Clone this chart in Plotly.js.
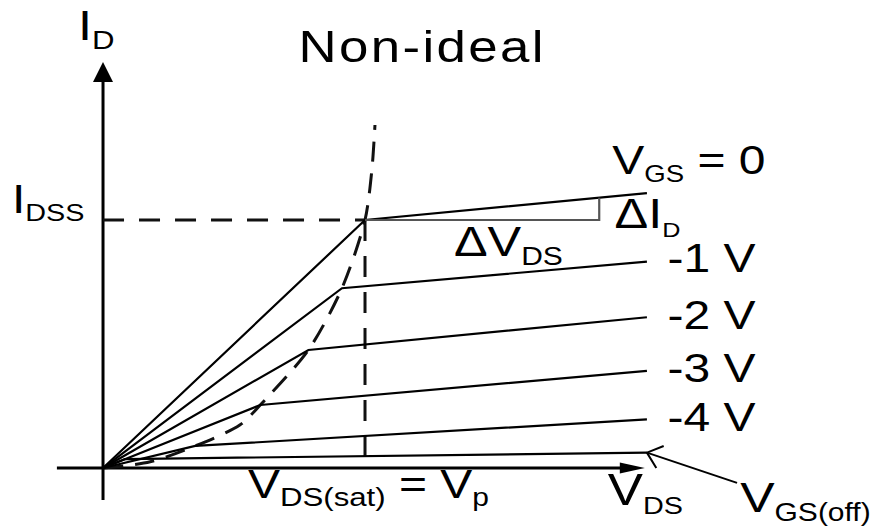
<!DOCTYPE html>
<html>
<head>
<meta charset="utf-8">
<script src="https://cdn.plot.ly/plotly-3.0.1.min.js"></script>
<style>
html, body { margin: 0; padding: 0; background: #fff; }
#chart { width: 877px; height: 528px; }
/* lettering on this sheet is set wide */
#chart text.annotation-text { transform: scaleX(1.2); transform-box: fill-box; transform-origin: center; }
</style>
</head>
<body>
<div id="chart"></div>
<script>
// Output characteristics of an n-channel JFET, non-ideal case (I_D keeps rising past saturation)

// one curve per gate-source voltage
const gateLabels = ['V<sub><span style="font-size:23px">GS</span></sub> = 0', '-1 V', '-2 V', '-3 V', '-4 V'];
const kneeVds = [5.00, 4.56, 3.92, 3.00, 1.76, 0.42];    // V_DS(sat) of each curve
const kneeId  = [10.0, 7.25, 4.76, 2.54, 0.89, 0.36];    // I_D at the knee
const endVds  = 10.38;                                    // right end of every curve
const endId   = [11.08, 8.32, 6.08, 3.92, 1.96, 0.62];    // I_D at the right end

// locus of the saturation points V_DS(sat)
const locusVds = [0, 0.90, 1.76, 2.61, 3.00, 3.92, 4.56, 5.00, 5.13, 5.19];
const locusId  = [0, 0.25, 0.89, 1.73, 2.54, 4.76, 7.25, 10.0, 12.0, 13.83];

const VP = 5.0;          // pinch-off voltage
const IDSS = 10.0;       // drain saturation current at V_GS = 0
const slopeEndVds = 9.47;  // right side of the ΔV_DS / ΔI_D triangle

// axis extents
const vAxisFrom = -0.88, vAxisTip = 10.34;
const iAxisFrom = -1.29, iAxisTip = 16.37;

// plotting frame
const W = 877, H = 528;
const X_RANGE = [-1.966, 14.771];
const Y_RANGE = [-2.419, 18.871];
const pxPerV = W / (X_RANGE[1] - X_RANGE[0]);
const pxPerI = H / (Y_RANGE[1] - Y_RANGE[0]);

const FONT = 'Liberation Sans, Arial, Helvetica, sans-serif';
const traces = [];
const solid = (x, y, w, c) => traces.push({x, y, mode: 'lines', line: {color: c || '#000', width: w || 2.2}, hoverinfo: 'skip'});
const dashed = (x, y, dash, shape) => traces.push({x, y, mode: 'lines', line: {color: '#111', width: 3, dash, shape: shape || 'linear', smoothing: 0.8}, hoverinfo: 'skip'});
const filled = (x, y) => traces.push({x, y, mode: 'lines', fill: 'toself', fillcolor: '#000', line: {width: 0, color: '#000'}, hoverinfo: 'skip'});

// axes with their arrowheads
solid([vAxisFrom, vAxisTip - 24 / pxPerV], [0, 0], 3);
solid([0, 0], [iAxisFrom, iAxisTip - 18 / pxPerI], 3);
filled([vAxisTip, vAxisTip - 25 / pxPerV, vAxisTip - 25 / pxPerV, vAxisTip],
       [0, 5.5 / pxPerI, -5.5 / pxPerI, 0]);
filled([0, -10 / pxPerV, 10 / pxPerV, 0],
       [iAxisTip, iAxisTip - 20 / pxPerI, iAxisTip - 20 / pxPerI, iAxisTip]);

// I_DSS and V_p guides, saturation locus
dashed([0, VP], [IDSS, IDSS], '21px,15px');
dashed([VP, VP], [IDSS, 0], '21px,15px');
dashed(locusVds, locusId, '20px,12px', 'spline');

// drain curves
for (let i = 0; i < kneeVds.length; i++) {
  solid([0, kneeVds[i], endVds], [0, kneeId[i], endId[i]]);
}

// slope triangle on the V_GS = 0 curve
const slopeTopId = IDSS + (endId[0] - IDSS) * (slopeEndVds - VP) / (endVds - VP);
solid([VP, slopeEndVds, slopeEndVds], [IDSS, IDSS, slopeTopId], 2.2, '#555');

// pointer to the cut-off curve
const tipV = endVds, tipI = endId[5];
const tailV = 12.10, tailI = -0.60;
solid([tailV, tipV], [tailI, tipI], 2);
(function () {
  const dx = (tailV - tipV) * pxPerV, dy = -(tailI - tipI) * pxPerI;
  const ang = Math.atan2(dy, dx), L = 18, spread = 40 * Math.PI / 180;
  const p = s => [tipV + L * Math.cos(ang + s) / pxPerV, tipI - L * Math.sin(ang + s) / pxPerI];
  const a = p(-spread), b = p(spread);
  solid([a[0], tipV, b[0]], [a[1], tipI, b[1]], 2);
})();

// text
const ann = (text, x, y, size, xanchor, yanchor) => ({
  text, x, y, xref: 'x', yref: 'y', showarrow: false,
  xanchor: xanchor || 'left', yanchor: yanchor || 'middle',
  font: {family: FONT, size: size || 40, color: '#000'}
});
const sub = (s, px) => '<sub><span style="font-size:' + px + 'px">' + s + '</span></sub>';

const annotations = [
  ann('<span style="letter-spacing:2px">Non-ideal</span>', 6.09, 17.0, 44, 'center'),
  ann('I' + sub('D', 26), -0.46, 17.74, 42),
  ann('I' + sub('DSS', 24), -1.66, 10.76, 40),
  ann('ΔI' + sub('D', 21), 9.82, 10.2, 42),
  ann('ΔV' + sub('DS', 25), 6.83, 9.04, 42),
  ann('V' + sub('DS', 24), 9.72, -0.96, 44),
  ann('V' + sub('GS(off)', 25), 12.33, -1.25, 43),
  ann('V' + sub('DS(sat)', 26) + ' = V' + sub('p', 25), 3.11, -0.76, 40),
  ann(gateLabels[0], 9.92, 12.30, 40)
];
for (let i = 1; i < gateLabels.length; i++) {
  annotations.push(ann(gateLabels[i], 10.87, endId[i] + (i === 1 ? 0.16 : 0.1), 40));
}

const layout = {
  width: W, height: H,
  margin: {l: 0, r: 0, t: 0, b: 0, pad: 0},
  paper_bgcolor: '#fff', plot_bgcolor: '#fff',
  showlegend: false,
  xaxis: {range: X_RANGE, visible: false, fixedrange: true},
  yaxis: {range: Y_RANGE, visible: false, fixedrange: true},
  annotations
};

Plotly.newPlot('chart', traces, layout, {staticPlot: true, displayModeBar: false});
</script>
</body>
</html>
